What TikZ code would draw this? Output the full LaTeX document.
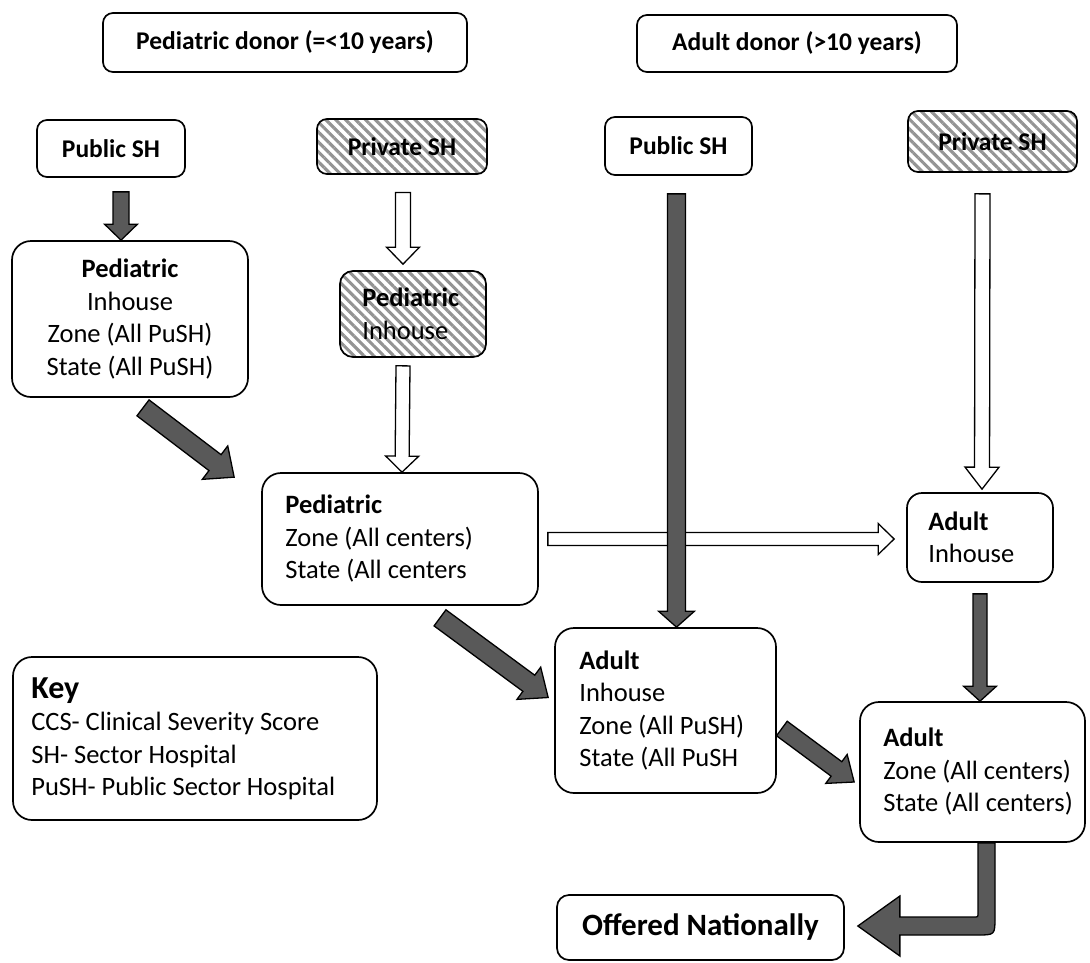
\documentclass[tikz,border=0pt]{standalone}
\usepackage{fontspec}
\setmainfont{Carlito}
\usetikzlibrary{calc, patterns.meta}
\tikzset{box/.style = {draw, line width=1.7pt, rounded corners=19pt, fill=white, inner sep=0pt},
         shbox/.style = {box, rounded corners=10pt, font=\fontsize{25.5}{30}\selectfont\bfseries},
         hatched/.style = {preaction={fill=white}, pattern={Lines[angle=-45,distance=7pt,line width=3.1pt]}, pattern color=black!42},
         txt/.style = {align=left, inner sep=0pt, font=\fontsize{26.5}{32.5}\selectfont},
         darkarrow/.style = {draw, line width=1.3pt, fill=black!65},
         whitearrow/.style = {draw, line width=1.3pt, fill=white}}
\newcommand{\blockarrow}[6][darkarrow]{%
  \coordinate (ba-s) at (#2);
  \coordinate (ba-e) at (#3);
  \coordinate (ba-b) at ($(ba-e)!#6!(ba-s)$);
  \draw[#1] ($(ba-s)!#4!90:(ba-e)$) -- ($(ba-b)!#4!90:(ba-e)$) -- ($(ba-b)!#5!90:(ba-e)$)
    -- (ba-e) -- ($(ba-b)!#5!-90:(ba-e)$) -- ($(ba-b)!#4!-90:(ba-e)$) -- ($(ba-s)!#4!-90:(ba-e)$) -- cycle;}

\begin{document}
\begin{tikzpicture}[x=1pt, y=-1pt]
            \useasboundingbox (0,0) rectangle (1090,962);

            \node [shbox, minimum width=364pt, minimum height=59pt] (pedD) at (285,42.5) {Pediatric donor (=<10 years)};
            \node [shbox, minimum width=320pt, minimum height=57pt] (adD)  at (797,43.5) {Adult donor (>10 years)};

            \node [shbox, minimum width=148pt, minimum height=57pt] (pubP)  at (111,148.5) {Public SH};
            \node [shbox, hatched, minimum width=170pt, minimum height=55pt] (privP) at (402,146.5) {Private SH};
            \node [shbox, minimum width=147pt, minimum height=58pt] (pubA)  at (678.5,146) {Public SH};
            \node [shbox, hatched, minimum width=169pt, minimum height=61pt] (privA) at (992.5,141.5) {Private SH};

            \node [box, txt, align=center, minimum width=236pt, minimum height=156pt] (ped1) at (130,319)
                  {\textbf{Pediatric}\\Inhouse\\Zone (All PuSH)\\State (All PuSH)};

            \node [box, hatched, rounded corners=13pt, minimum width=146pt, minimum height=86pt] (pedIn) at (413,314) {};
            \node [txt, anchor=west] (pedInT) at ($(pedIn.west)+(23,0)$) {\textbf{Pediatric}\\Inhouse};

            \node [box, minimum width=276pt, minimum height=132pt] (ped2) at (400,539) {};
            \node [txt, anchor=west] (ped2T) at ($(ped2.west)+(24,0)$) {\textbf{Pediatric}\\Zone (All centers)\\State (All centers};

            \node [box, rounded corners=15pt, minimum width=146pt, minimum height=89pt] (adIn) at (980,537.5) {};
            \node [txt, anchor=west] (adInT) at ($(adIn.west)+(22,0)$) {\textbf{Adult}\\Inhouse};

            \node [box, minimum width=221pt, minimum height=165pt] (adC) at (665.5,710.5) {};
            \node [txt, anchor=west] (adCT) at ($(adC.west)+(25,0)$) {\textbf{Adult}\\Inhouse\\Zone (All PuSH)\\State (All PuSH};

            \node [box, minimum width=225pt, minimum height=140pt] (adR) at (972.5,772) {};
            \node [txt, anchor=west] (adRT) at ($(adR.west)+(24,0)$) {\textbf{Adult}\\Zone (All centers)\\State (All centers)};

            \node [box, minimum width=364pt, minimum height=163pt] (key) at (195,738.5) {};
            \node [txt, anchor=west] (keyT) at ($(key.west)+(19,0)$)
                  {{\fontsize{32}{36}\selectfont\textbf{Key}}\\CCS- Clinical Severity Score\\SH- Sector Hospital\\PuSH- Public Sector Hospital};

            \node [box, rounded corners=12pt, minimum width=287pt, minimum height=65pt, font=\fontsize{31}{35}\selectfont\bfseries] (off) at (700.5,927.5) {Offered Nationally};

            \blockarrow{$(pubP.south)+(10,14)$}{$(ped1.north)+(-9,0)$}{8pt}{16.5pt}{16pt}
            \blockarrow[whitearrow]{$(privP.south)+(1,17)$}{$(pedIn.north)+(-10,-6)$}{7.5pt}{16.5pt}{17pt}
            \blockarrow[whitearrow]{$(pedIn.south)+(-10,8)$}{$(ped2.north)+(2,0)$}{7pt}{16.5pt}{16pt}
            \blockarrow{$(ped1.south)+(13,10)$}{$(ped2.north west)+(-27,5)$}{10pt}{21pt}{24pt}
            \blockarrow[whitearrow]{$(ped2.east)+(9,0)$}{$(adIn.west)+(-12,1.5)$}{6.5pt}{15.5pt}{16pt}
            \blockarrow{$(pubA.south)+(-2,18)$}{$(adC.north)+(11,0)$}{9pt}{18pt}{16pt}
            \blockarrow[whitearrow]{$(privA.south)+(-10,21)$}{$(adIn.north)+(2,-3)$}{7.5pt}{17pt}{22pt}
            \blockarrow{$(adIn.south)+(0,11)$}{$(adR.north)+(7.5,0)$}{7pt}{16.5pt}{15pt}
            \blockarrow{$(ped2.south)+(40,12)$}{$(adC.west)+(-6,-13)$}{10pt}{20pt}{24pt}
            \blockarrow{$(adC.east)+(5,18)$}{$(adR.west)+(-5,10)$}{9pt}{18pt}{22pt}

            \coordinate (el-top) at ($(adR.south)+(14,0)$);
            \coordinate (el-tip) at ($(off.east)+(13,-1.5)$);
            \coordinate (el-c) at (el-top |- el-tip);
            \draw [darkarrow] ($(el-top)+(-8.5,0)$) -- ($(el-c)+(-8.5,-13)$) .. controls ($(el-c)+(-8.5,-9)$) .. ($(el-c)+(-12.5,-9)$)
                  -- ($(el-tip)+(42,-9)$) -- ($(el-tip)+(42,-30)$) -- (el-tip) -- ($(el-tip)+(42,30)$) -- ($(el-tip)+(42,9)$)
                  -- ($(el-c)+(-9.5,9)$) .. controls ($(el-c)+(8.5,9)$) .. ($(el-c)+(8.5,-9)$) -- ($(el-top)+(8.5,0)$) -- cycle;
        \end{tikzpicture}
\end{document}
